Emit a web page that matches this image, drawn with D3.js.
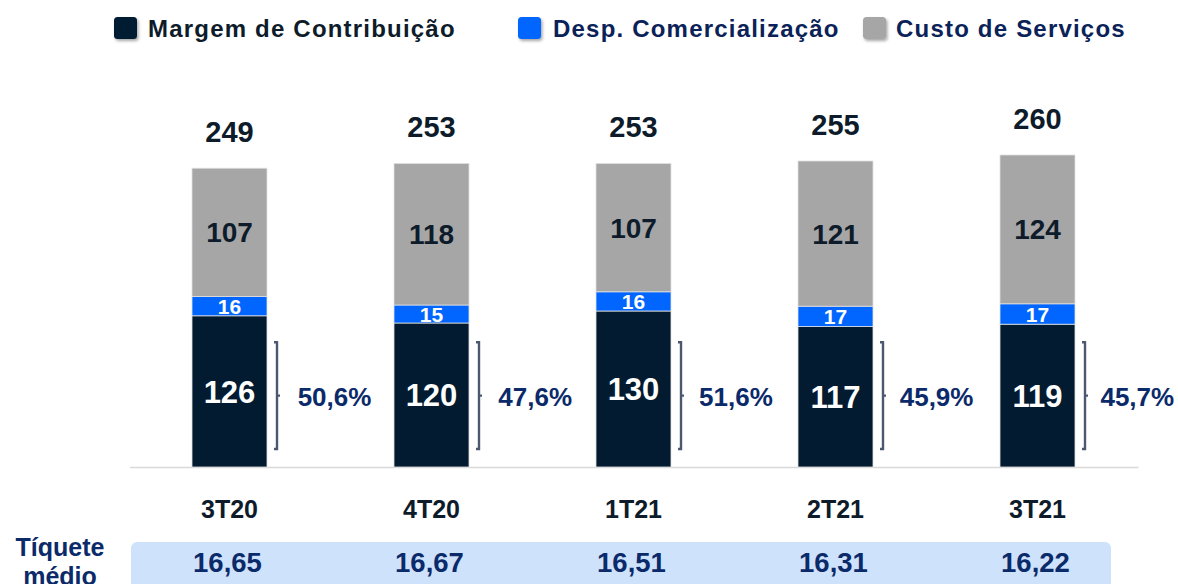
<!DOCTYPE html>
<html><head><meta charset="utf-8">
<script src="https://cdn.jsdelivr.net/npm/d3@7"></script>
<style>
html,body{margin:0;padding:0;background:#fff;}
svg{display:block;}
text{font-family:"Liberation Sans",Arial,sans-serif;font-weight:bold;}
</style></head>
<body><svg id="chart" width="1178" height="584"></svg>
<script>
const categories = ["3T20","4T20","1T21","2T21","3T21"];
const margem = [126,120,130,117,119];
const despesas = [16,15,16,17,17];
const custo = [107,118,107,121,124];
const totals = [249,253,253,255,260];
const percentLabels = ["50,6%","47,6%","51,6%","45,9%","45,7%"];
const ticketLabels = ["16,65","16,67","16,51","16,31","16,22"];
const seriesNames = ["Margem de Contribuição","Desp. Comercialização","Custo de Serviços"];
const seriesColors = ["#021b30","#0066ff","#a6a6a6"];

const svg = d3.select("#chart");
const defs = svg.append("defs");
const f = defs.append("filter").attr("id","sh").attr("x","-30%").attr("y","-30%").attr("width","170%").attr("height","170%");
f.append("feDropShadow").attr("dx",1.5).attr("dy",2).attr("stdDeviation",1.5).attr("flood-color","#000").attr("flood-opacity",0.35);

const x = d3.scaleBand().domain(categories).range([128.5,1138.5]).paddingInner(127/202).paddingOuter(63.5/202);
const y = d3.scaleLinear().domain([0,260]).range([467,155]);
const bw = x.bandwidth();

const rows = categories.map((c,i)=>({cat:c, m:margem[i], d:despesas[i], c2:custo[i]}));
const stack = d3.stack().keys(["m","d","c2"])(rows);

// baseline
svg.append("line").attr("x1",x.range()[0]+1.5).attr("x2",x.range()[1]).attr("y1",y(0)+0.5).attr("y2",y(0)+0.5)
  .attr("stroke","#d9d9d9").attr("stroke-width",1.5);

stack.forEach((layer,k)=>{
  svg.append("g").selectAll("rect").data(layer).join("rect")
    .attr("x",d=>x(d.data.cat)).attr("width",bw)
    .attr("y",d=>y(d[1])).attr("height",d=>y(d[0])-y(d[1]))
    .attr("fill",seriesColors[k]).attr("stroke","#e2e2e2").attr("stroke-width",0.8);
});

const segStyle = [
  {size:31, color:"#ffffff"},
  {size:21, color:"#ffffff"},
  {size:28, color:"#0d1b2a"}
];
stack.forEach((layer,k)=>{
  svg.append("g").selectAll("text").data(layer).join("text")
    .attr("x",d=>x(d.data.cat)+bw/2)
    .attr("y",d=>(y(d[0])+y(d[1]))/2 + segStyle[k].size*0.36)
    .attr("text-anchor","middle").attr("font-size",segStyle[k].size)
    .attr("fill",segStyle[k].color)
    .text(d=>d[1]-d[0]);
});

// totals
svg.append("g").selectAll("text").data(categories).join("text")
  .attr("x",c=>x(c)+bw/2).attr("y",(c,i)=>y(totals[i])-26)
  .attr("text-anchor","middle").attr("font-size",29).attr("fill","#0d1b2a")
  .text((c,i)=>totals[i]);

// brackets + percentages
const bTop = y(104), bBot = y(15), bMid = (bTop+bBot)/2;
categories.forEach((c,i)=>{
  const bx = x(c)+bw+10;
  svg.append("path")
    .attr("d",`M${bx-3},${bTop} H${bx} V${bBot} H${bx-3} M${bx},${bMid} H${bx+3}`)
    .attr("fill","none").attr("stroke","#4b5870").attr("stroke-width",2.4);
  svg.append("text").attr("x",x(c)+bw/2+105-1.3*i).attr("y",bMid+10)
    .attr("text-anchor","middle").attr("font-size",26).attr("fill","#0b2a6a")
    .text(percentLabels[i]);
});

// category labels
svg.append("g").selectAll("text").data(categories).join("text")
  .attr("x",c=>x(c)+bw/2).attr("y",518)
  .attr("text-anchor","middle").attr("font-size",25).attr("fill","#0d1b2a")
  .text(c=>c);

// ticket band
svg.append("rect").attr("x",131).attr("y",542).attr("width",980).attr("height",70).attr("rx",6)
  .attr("fill","#cfe2fc");
svg.append("g").selectAll("text").data(categories).join("text")
  .attr("x",c=>x(c)+bw/2-2).attr("y",572)
  .attr("text-anchor","middle").attr("font-size",27.5).attr("fill","#0b2a6a")
  .text((c,i)=>ticketLabels[i]);
const tq = svg.append("text").attr("x",60).attr("y",556).attr("text-anchor","middle")
  .attr("font-size",25).attr("fill","#0b2a6a");
tq.append("tspan").attr("x",60).text("Tíquete");
tq.append("tspan").attr("x",60).attr("dy",29).text("médio");

// legend
const legendSquareX = [114,518,863];
const legendTextX = [148,553,896];
const legendTextColor = ["#0d1b2a","#0b2258","#0b2258"];
seriesNames.forEach((n,i)=>{
  svg.append("rect").attr("x",legendSquareX[i]).attr("y",17).attr("width",23).attr("height",22).attr("rx",3.5)
    .attr("fill",seriesColors[i]).attr("filter","url(#sh)");
  svg.append("text").attr("x",legendTextX[i]).attr("y",37).attr("font-size",24)
    .attr("letter-spacing",1.2).attr("fill",legendTextColor[i]).text(n);
});
</script></body></html>
